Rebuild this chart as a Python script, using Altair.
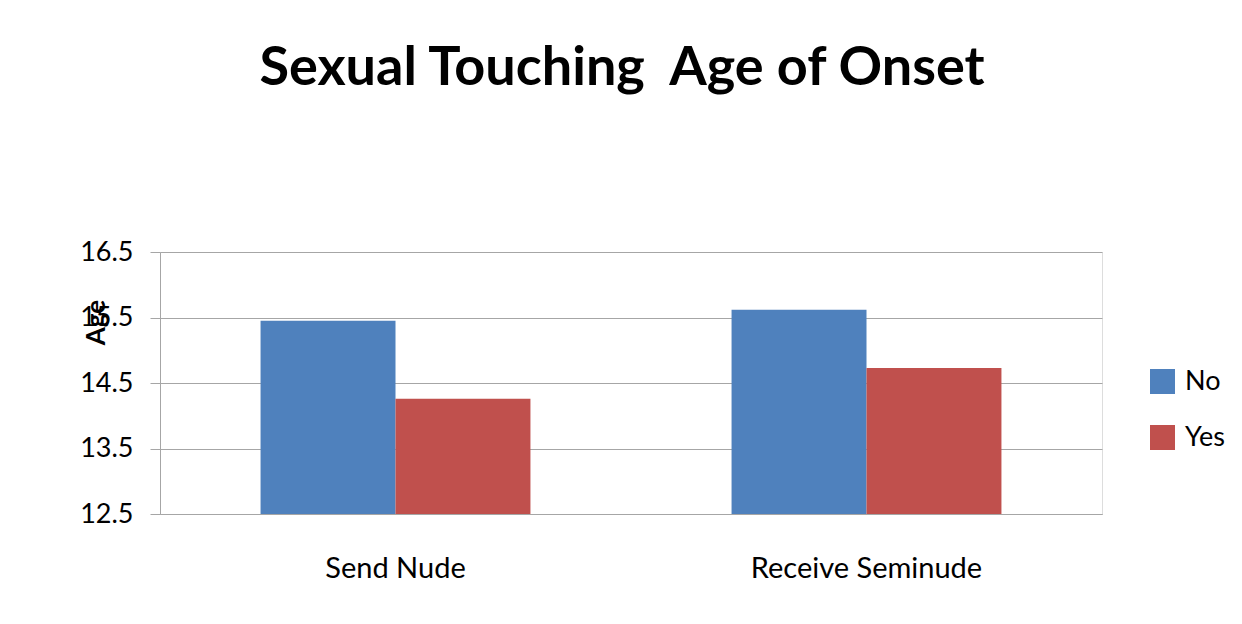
import altair as alt
import pandas as pd

categories = ["Send Nude", "Send Nude", "Receive Seminude", "Receive Seminude"]
groups = ["No", "Yes", "No", "Yes"]
ages = [15.45, 14.26, 15.62, 14.73]

df = pd.DataFrame({"category": categories, "group": groups, "age": ages})

FONT = "Lato"
GRID = "#A6A6A6"

chart = alt.Chart(df).mark_bar(clip=True).encode(
    x=alt.X("category:N", sort=["Send Nude", "Receive Seminude"],
            scale=alt.Scale(paddingInner=0.427, paddingOuter=0.2135),
            axis=alt.Axis(title=None, labelAngle=0, labelFontSize=29, labelFont=FONT,
                          labelColor="#000000", labelPadding=40, labelLimit=0, ticks=False,
                          domainColor=GRID, domainWidth=1)),
    xOffset=alt.XOffset("group:N", sort=["No", "Yes"],
                        scale=alt.Scale(paddingInner=0, paddingOuter=0)),
    y=alt.Y("age:Q", scale=alt.Scale(domain=[12.5, 16.5], nice=False, zero=False),
            axis=alt.Axis(values=[12.5, 13.5, 14.5, 15.5, 16.5], format=".1f",
                          title="Age", titleFont=FONT, titleFontSize=26, titleFontWeight="bold",
                          titleColor="#000000", titleX=-64, titleY=70, titleAngle=-90,
                          titleAlign="center", titleBaseline="middle",
                          labelFont=FONT, labelFontSize=27, labelColor="#000000",
                          labelPadding=17, tickSize=10, tickColor=GRID, domainColor=GRID,
                          gridColor=GRID, gridWidth=1, grid=True)),
    color=alt.Color("group:N", sort=["No", "Yes"],
                    scale=alt.Scale(domain=["No", "Yes"], range=["#4F81BD", "#C0504D"]),
                    legend=alt.Legend(title=None, orient="none", legendX=989, legendY=116,
                                      symbolType="square", symbolSize=625, symbolStrokeWidth=0,
                                      labelFont=FONT, labelFontSize=27, labelColor="#000000",
                                      labelOffset=9, rowPadding=28, symbolOpacity=1)),
).properties(
    width=942,
    height=262,
    title=alt.TitleParams("Sexual Touching\u00a0 Age of Onset", font=FONT, fontSize=54,
                          fontWeight="bold", color="#000000", anchor="middle",
                          baseline="alphabetic", offset=99, dx=-9),
    autosize=alt.AutoSizeParams(type="none"),
    padding={"left": 152, "top": 244, "right": 132, "bottom": 102},
).configure_view(stroke=None).configure(background="white")

chart.save("out.html", embed_options={"renderer": "svg", "actions": False})
